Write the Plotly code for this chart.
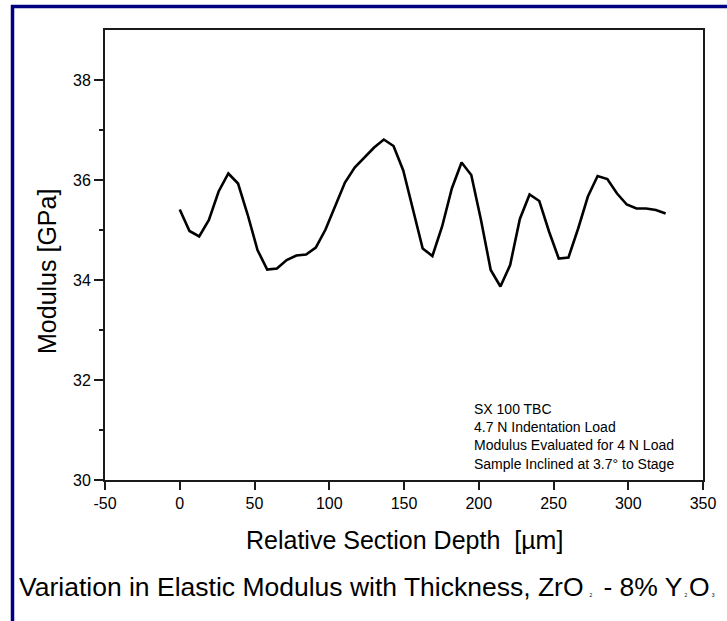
import plotly.graph_objects as go

# Data
depth_um = [0, 6.5, 13, 19.5, 26, 32.5, 39, 45.5, 52, 58.5, 65, 71.5, 78, 84.5, 91, 97.5,
            104, 110.5, 117, 123.5, 130, 136.5, 143, 149.5, 156, 162.5, 169, 175.5, 182,
            188.5, 195, 201.5, 208, 214.5, 221, 227.5, 234, 240.5, 247, 253.5, 260, 266.5,
            273, 279.5, 286, 292.5, 299, 305.5, 312, 318.5, 325]
modulus_gpa = [35.41, 34.98, 34.87, 35.20, 35.77, 36.13, 35.93, 35.30, 34.60, 34.21, 34.23,
               34.40, 34.49, 34.51, 34.65, 35.01, 35.48, 35.95, 36.25, 36.45, 36.65, 36.81,
               36.68, 36.19, 35.40, 34.63, 34.48, 35.07, 35.83, 36.35, 36.10, 35.20, 34.20,
               33.87, 34.30, 35.22, 35.71, 35.58, 34.97, 34.43, 34.45, 35.03, 35.67, 36.08,
               36.02, 35.73, 35.51, 35.43, 35.43, 35.40, 35.33]

x_ticks = [-50, 0, 50, 100, 150, 200, 250, 300, 350]
x_tick_text = ["-50", "0", "50", "100", "150", "200", "250", "300", "350"]
y_ticks = [30, 32, 34, 36, 38]
y_minor = [31, 33, 35, 37]

note_lines = ["SX 100 TBC", "4.7 N Indentation Load",
              "Modulus Evaluated for 4 N Load", "Sample Inclined at 3.7° to Stage"]

W, H = 727, 621
L, R, T, B = 105, 703, 30, 480


def px_x(p):
    return (p - L) / (R - L)


def px_y(p):
    return (B - p) / (B - T)


FONT = "Liberation Sans, Arial, sans-serif"
AXC = "#1a1a1a"

fig = go.Figure()
fig.add_trace(go.Scatter(x=depth_um, y=modulus_gpa, mode="lines",
                         line=dict(color="black", width=2.6), showlegend=False,
                         hoverinfo="skip"))

axis_common = dict(showline=True, linecolor=AXC, linewidth=2, mirror=True,
                   ticks="outside", tickcolor=AXC, tickwidth=2, showgrid=False,
                   zeroline=False, tickfont=dict(family=FONT, size=16, color="black"))

fig.update_xaxes(range=[-50, 350], tickvals=x_ticks, ticktext=x_tick_text,
                 ticklen=8, **axis_common)
fig.update_yaxes(range=[30, 39], tickvals=y_ticks, ticklen=9,
                 minor=dict(tickvals=y_minor, ticklen=4, ticks="outside",
                            tickcolor=AXC, tickwidth=2),
                 **axis_common)

SP = "<span style='font-size:7px'>"
caption = ("Variation in Elastic Modulus with Thickness, ZrO"
           + SP + "&nbsp;&nbsp;&nbsp;<sub>2</sub>&nbsp;&nbsp;</span>"
           + " - 8% Y" + SP + "&nbsp;<sub>2</sub>&nbsp;</span>O"
           + SP + "&nbsp;<sub>3</sub></span>")

annotations = [
    dict(text="<br>".join(note_lines), x=px_x(472), y=px_y(474), xref="paper",
         yref="paper", xanchor="left", yanchor="bottom", align="left",
         showarrow=False, font=dict(family=FONT, size=14, color="black")),
    dict(text="Modulus [GPa]", textangle=-90, x=px_x(47), y=px_y(272),
         xref="paper", yref="paper", xanchor="center", yanchor="middle",
         showarrow=False, font=dict(family=FONT, size=25, color="black")),
    dict(text="Relative Section Depth  [µm]", x=px_x(404), y=px_y(540),
         xref="paper", yref="paper", xanchor="center", yanchor="middle",
         showarrow=False, font=dict(family=FONT, size=25, color="black")),
    dict(text=caption, x=px_x(17), y=px_y(587), xref="paper", yref="paper",
         xanchor="left", yanchor="middle", showarrow=False,
         font=dict(family=FONT, size=26.5, color="black")),
]

shapes = [
    dict(type="line", xref="paper", yref="paper", x0=px_x(12.5), x1=px_x(12.5),
         y0=px_y(5), y1=px_y(640), line=dict(color="#000080", width=3.5)),
    dict(type="line", xref="paper", yref="paper", x0=px_x(11), x1=px_x(740),
         y0=px_y(6.5), y1=px_y(6.5), line=dict(color="#000080", width=3.5)),
]

fig.update_layout(width=W, height=H, margin=dict(l=L, r=W - R, t=T, b=H - B),
                  paper_bgcolor="white", plot_bgcolor="white",
                  annotations=annotations, shapes=shapes,
                  font=dict(family=FONT, color="black"))

fig.write_html("out.html", config={"displayModeBar": False},
               post_script="document.body.style.margin='0';"
                           "document.body.style.overflow='hidden';")
